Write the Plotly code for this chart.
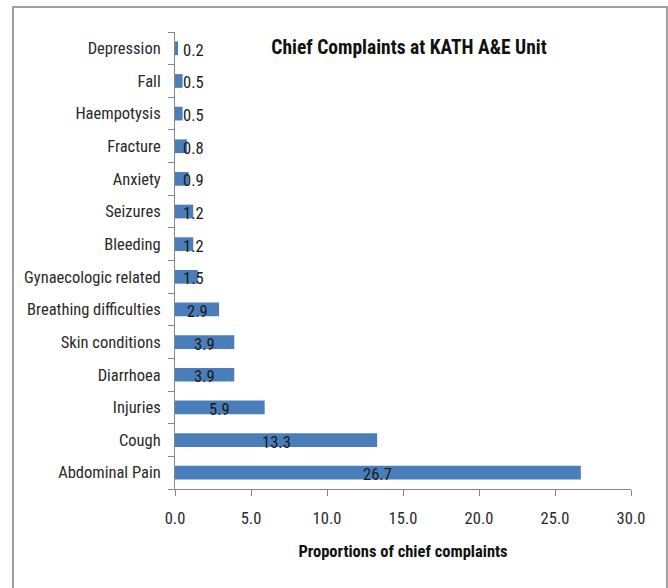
import plotly.graph_objects as go

categories = ["Abdominal Pain", "Cough", "Injuries", "Diarrhoea", "Skin conditions",
              "Breathing difficulties", "Gynaecologic related", "Bleeding", "Seizures",
              "Anxiety", "Fracture", "Haempotysis", "Fall", "Depression"]
values = [26.7, 13.3, 5.9, 3.9, 3.9, 2.9, 1.5, 1.2, 1.2, 0.9, 0.8, 0.5, 0.5, 0.2]
x_ticks = [0, 5, 10, 15, 20, 25, 30]
x_tick_labels = ["0.0", "5.0", "10.0", "15.0", "20.0", "25.0", "30.0"]

FONT = "Liberation Sans Narrow, Arial Narrow, Roboto Condensed, sans-serif"

fig = go.Figure()
fig.add_trace(go.Bar(
    y=categories, x=values, orientation="h",
    marker=dict(color="#4A7EBB", line=dict(width=0)),
    width=0.42, hoverinfo="x+y",
))

# data labels (centred on bar, kept clear of the axis for small bars)
for c, v in zip(categories, values):
    fig.add_annotation(x=max(v / 2, 1.2), y=c, text=f"{v:.1f}", showarrow=False,
                       xanchor="center", yanchor="middle", yshift=-2,
                       font=dict(family=FONT, size=16.5, color="#1a1a1a"))

# outer chart border
fig.add_shape(type="rect", xref="paper", yref="paper",
              x0=(13 - 175) / 456, x1=(667 - 175) / 456,
              y0=(489 - 600) / 457, y1=(489 - 7) / 457,
              line=dict(color="#A0A0A0", width=2), fillcolor="rgba(0,0,0,0)",
              layer="below")

fig.update_layout(
    width=668, height=588,
    margin=dict(l=175, r=37, t=32, b=99),
    paper_bgcolor="white", plot_bgcolor="white",
    showlegend=False,
    font=dict(family=FONT, size=16.5, color="#2a2a2a"),
    title=dict(text="<b>Chief Complaints at KATH A&amp;E Unit</b>",
               x=(409 - 175) / 456, xref="paper", xanchor="center",
               y=1 - 47 / 588, yref="container", yanchor="middle",
               font=dict(family=FONT, size=19.5, color="#111111")),
    xaxis=dict(range=[0, 30], tickvals=x_ticks, ticktext=x_tick_labels,
               showgrid=False, zeroline=False, showline=True, linecolor="#888888",
               linewidth=1, ticks="outside", ticklen=6, tickcolor="#888888",
               ticklabelstandoff=8,
               tickfont=dict(family=FONT, size=16.5, color="#2a2a2a"),
               title=dict(text="<b>Proportions of chief complaints</b>", standoff=18,
                          font=dict(family=FONT, size=16.5, color="#111111"))),
    yaxis=dict(showgrid=False, zeroline=False, showline=True, linecolor="#888888",
               linewidth=1, ticks="outside", ticklen=6, tickcolor="#888888",
               tickson="boundaries", ticklabelstandoff=10,
               tickfont=dict(family=FONT, size=16.5, color="#2a2a2a"),
               range=[-0.5, len(categories) - 0.5]),
)

fig.write_html("out.html")
